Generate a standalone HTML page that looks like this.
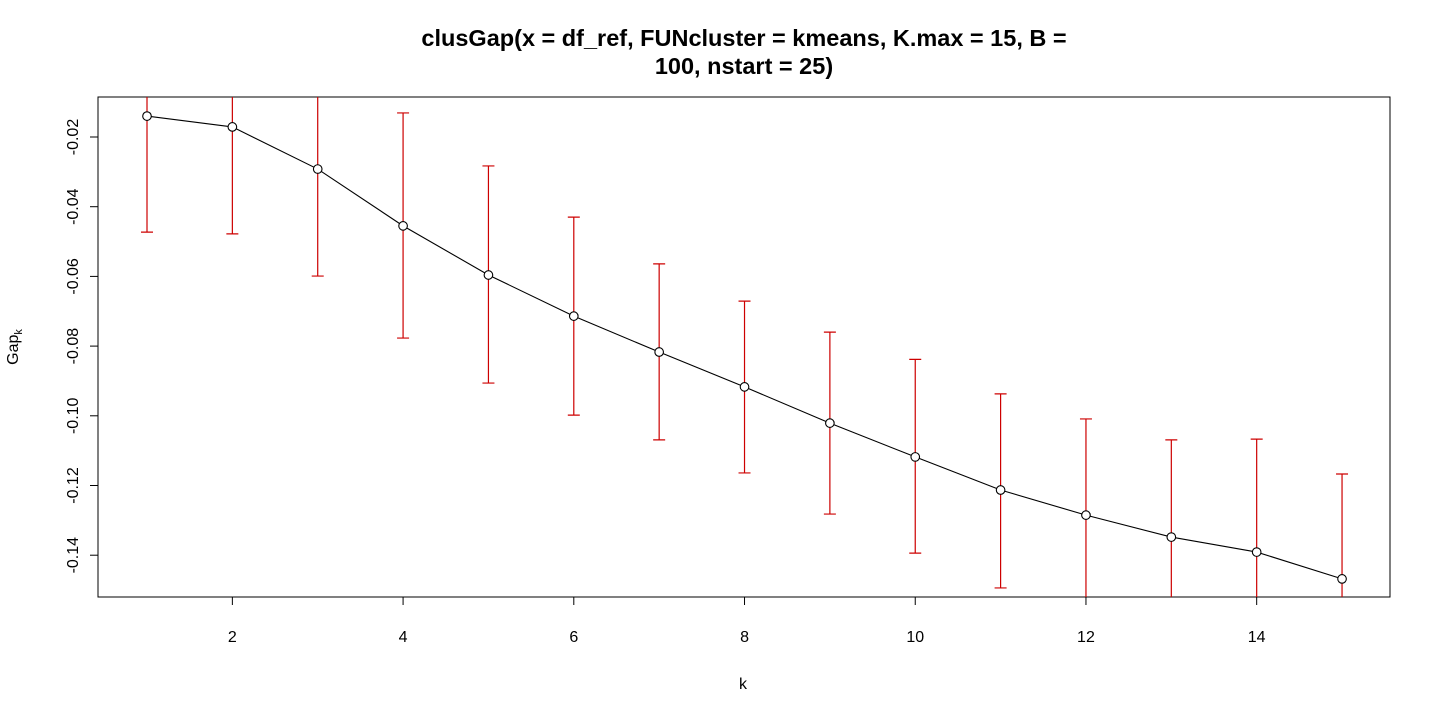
<!DOCTYPE html>
<html><head><meta charset="utf-8"><style>
body{margin:0;background:#fff;}
svg{font-family:"Liberation Sans",sans-serif;}
</style></head><body>
<svg width="1440" height="720">
<defs><clipPath id="pc"><rect x="98" y="97" width="1292" height="500"/></clipPath></defs>
<g id="root"></g>
</svg>
<script>
const ks=[1,2,3,4,5,6,7,8,9,10,11,12,13,14,15];
const gap=[-0.0140,-0.0171,-0.0292,-0.0455,-0.0596,-0.0714,-0.0817,-0.0917,-0.1021,-0.1118,-0.1213,-0.1285,-0.1348,-0.1391,-0.1468];
const upper=[0.0193,0.0136,0.0015,-0.0131,-0.0283,-0.0430,-0.0564,-0.0671,-0.0760,-0.0838,-0.0937,-0.1009,-0.1069,-0.1067,-0.1167];
const lower=[-0.0473,-0.0478,-0.0599,-0.0777,-0.0906,-0.0998,-0.1069,-0.1164,-0.1282,-0.1394,-0.1494,-0.1561,-0.1627,-0.1715,-0.1769];
const xTicks=[2,4,6,8,10,12,14];
const yTicks=[-0.02,-0.04,-0.06,-0.08,-0.10,-0.12,-0.14];
const yTickLabels=["-0.02","-0.04","-0.06","-0.08","-0.10","-0.12","-0.14"];

const X=k=>147+(k-1)*85.36;
const Y=v=>137+(-0.02-v)*3485;
const NS="http://www.w3.org/2000/svg";
const root=document.getElementById('root');
function mk(t,a,p){const e=document.createElementNS(NS,t);for(const k in a)e.setAttribute(k,a[k]);(p||root).appendChild(e);return e;}

let t=mk('text',{x:744,y:46,'text-anchor':'middle','font-size':23.5,'font-weight':'bold'});


t.textContent="clusGap(x = df_ref, FUNcluster = kmeans, K.max = 15, B =";
t=mk('text',{x:744,y:74,'text-anchor':'middle','font-size':23.5,'font-weight':'bold'});


t.textContent="100, nstart = 25)";

let box=mk('rect',{x:98,y:97,width:1292,height:500,fill:'none',stroke:'#000','stroke-width':1});



xTicks.forEach(k=>{
 const l=mk('line',{x1:X(k),x2:X(k),y1:597,y2:605,stroke:'#000'});
 
 
 const tx=mk('text',{x:X(k),y:642,'text-anchor':'middle','font-size':16});
 
 
 tx.textContent=k;
});
yTicks.forEach((v,i)=>{
 const l=mk('line',{x1:90,x2:98,y1:Y(v),y2:Y(v),stroke:'#000'});
 
 
 const tx=mk('text',{x:0,y:0,'text-anchor':'middle','font-size':16,transform:`translate(78,${Y(v)}) rotate(-90)`});
 
 
 tx.textContent=yTickLabels[i];
});
t=mk('text',{x:743,y:689,'text-anchor':'middle','font-size':16});


t.textContent="k";
t=mk('text',{x:0,y:0,'text-anchor':'middle','font-size':16,transform:'translate(18,347) rotate(-90)'});


t.innerHTML='Gap<tspan font-size="11" dy="4">k</tspan>';

const g=mk('g',{'clip-path':'url(#pc)'});


ks.forEach((k,i)=>{
 const x=X(k),y1=Y(upper[i]),y2=Y(lower[i]);
 const e=mk('path',{d:`M${x},${y1}V${y2}M${x-6},${y1}H${x+6}M${x-6},${y2}H${x+6}`,stroke:'#cd0000',fill:'none','stroke-width':1.2},g);
 
 
});
const line=mk('polyline',{points:ks.map((k,i)=>X(k)+','+Y(gap[i])).join(' '),fill:'none',stroke:'#000','stroke-width':1.1},g);


ks.forEach((k,i)=>{
 const c=mk('circle',{cx:X(k),cy:Y(gap[i]),r:4.3,fill:'#fff',stroke:'#000','stroke-width':1.1},g);
 
 
});
</script>
</body></html>
